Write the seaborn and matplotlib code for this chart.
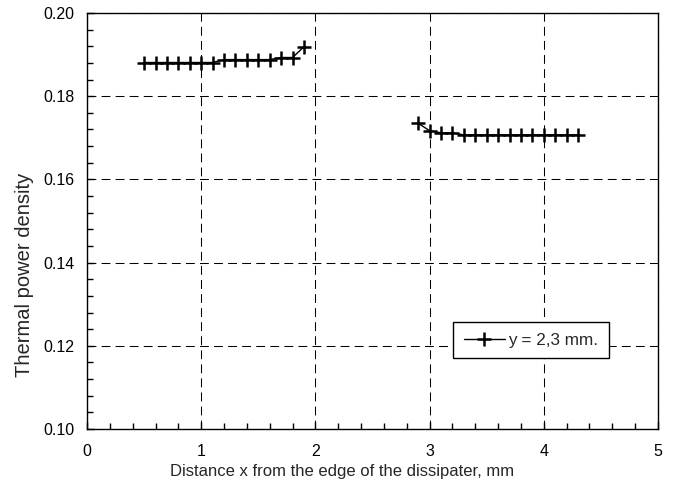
import numpy as np
import pandas as pd
import matplotlib
matplotlib.use("Agg")
import matplotlib.pyplot as plt
from matplotlib.ticker import MultipleLocator
import seaborn as sns

# Thermal power density along x, at y = 2,3 mm, on both sides of the gap
x_left = [0.5, 0.6, 0.7, 0.8, 0.9, 1.0, 1.1, 1.2, 1.3, 1.4, 1.5, 1.6, 1.7, 1.8, 1.9]
p_left = [0.1881, 0.1881, 0.1881, 0.1881, 0.1881, 0.1881, 0.1881, 0.1888, 0.1888,
          0.1888, 0.1888, 0.1888, 0.1893, 0.1893, 0.1919]
x_right = [2.9, 3.0, 3.1, 3.2, 3.3, 3.4, 3.5, 3.6, 3.7, 3.8, 3.9, 4.0, 4.1, 4.2, 4.3]
p_right = [0.1735, 0.1717, 0.1712, 0.1712, 0.1707, 0.1707, 0.1707, 0.1707, 0.1707,
           0.1707, 0.1707, 0.1707, 0.1707, 0.1707, 0.1707]
series_label = "y = 2,3 mm."

x_ticks = [0, 1, 2, 3, 4, 5]
y_ticks = [0.10, 0.12, 0.14, 0.16, 0.18, 0.20]

sns.set_style("white")
plt.rcParams["font.family"] = ["Liberation Sans", "DejaVu Sans"]

df_left = pd.DataFrame({"x": x_left, "p": p_left})
df_right = pd.DataFrame({"x": x_right, "p": p_right})

W, H = 688, 491
fig = plt.figure(figsize=(W / 100, H / 100), dpi=100)
ax = fig.add_axes([87 / W, 1 - 429 / H, (658 - 87) / W, (429 - 13) / H])

style = dict(color="black", linewidth=1.0, marker="+", markersize=10,
             markeredgewidth=1.8, markeredgecolor="black")
sns.lineplot(data=df_left, x="x", y="p", ax=ax, label=series_label, **style)
sns.lineplot(data=df_right, x="x", y="p", ax=ax, **style)

ax.set_xlim(x_ticks[0], x_ticks[-1])
ax.set_ylim(y_ticks[0], y_ticks[-1])
ax.set_xticks(x_ticks)
ax.set_yticks(y_ticks)
ax.set_xticklabels([str(v) for v in x_ticks])
ax.set_yticklabels([f"{v:.2f}" for v in y_ticks])
ax.xaxis.set_minor_locator(MultipleLocator(0.2))
ax.yaxis.set_minor_locator(MultipleLocator(0.004))

ax.grid(True, which="major", color="black", linestyle=(0, (8.5, 5)), linewidth=0.75)
for s in ax.spines.values():
    s.set_visible(True)
    s.set_color("black")
    s.set_linewidth(1.0)

ax.tick_params(axis="both", which="major", direction="in", length=5, width=1,
               labelsize=11.5, colors="black")
ax.tick_params(axis="x", which="major", pad=11)
ax.tick_params(axis="y", which="major", pad=9)
ax.tick_params(axis="both", which="minor", direction="in", length=4, width=1,
               colors="black")
ax.tick_params(axis="y", which="both", left=True)
ax.tick_params(axis="x", which="both", bottom=True)

ax.set_xlabel("Distance x from the edge of the dissipater, mm", fontsize=12)
ax.set_ylabel("Thermal power density", fontsize=14.5)
# label positions in axes fraction
ax.xaxis.set_label_coords((342 - 87) / 571, -(464 - 429) / 416)
ax.yaxis.set_label_coords(-(87 - 34) / 571, (429 - 275) / 416)

leg = ax.legend(loc="upper left", bbox_to_anchor=(453 / W, 1 - 322 / H),
                bbox_transform=fig.transFigure, frameon=True, fancybox=False,
                shadow=False, fontsize=12.3, handlelength=2.4, borderpad=0.62,
                handletextpad=0.2, borderaxespad=0)
leg.get_frame().set_edgecolor("black")
leg.get_frame().set_linewidth(1.0)
leg.get_frame().set_alpha(1)

fig.savefig("out.png", dpi=100, facecolor="white")
